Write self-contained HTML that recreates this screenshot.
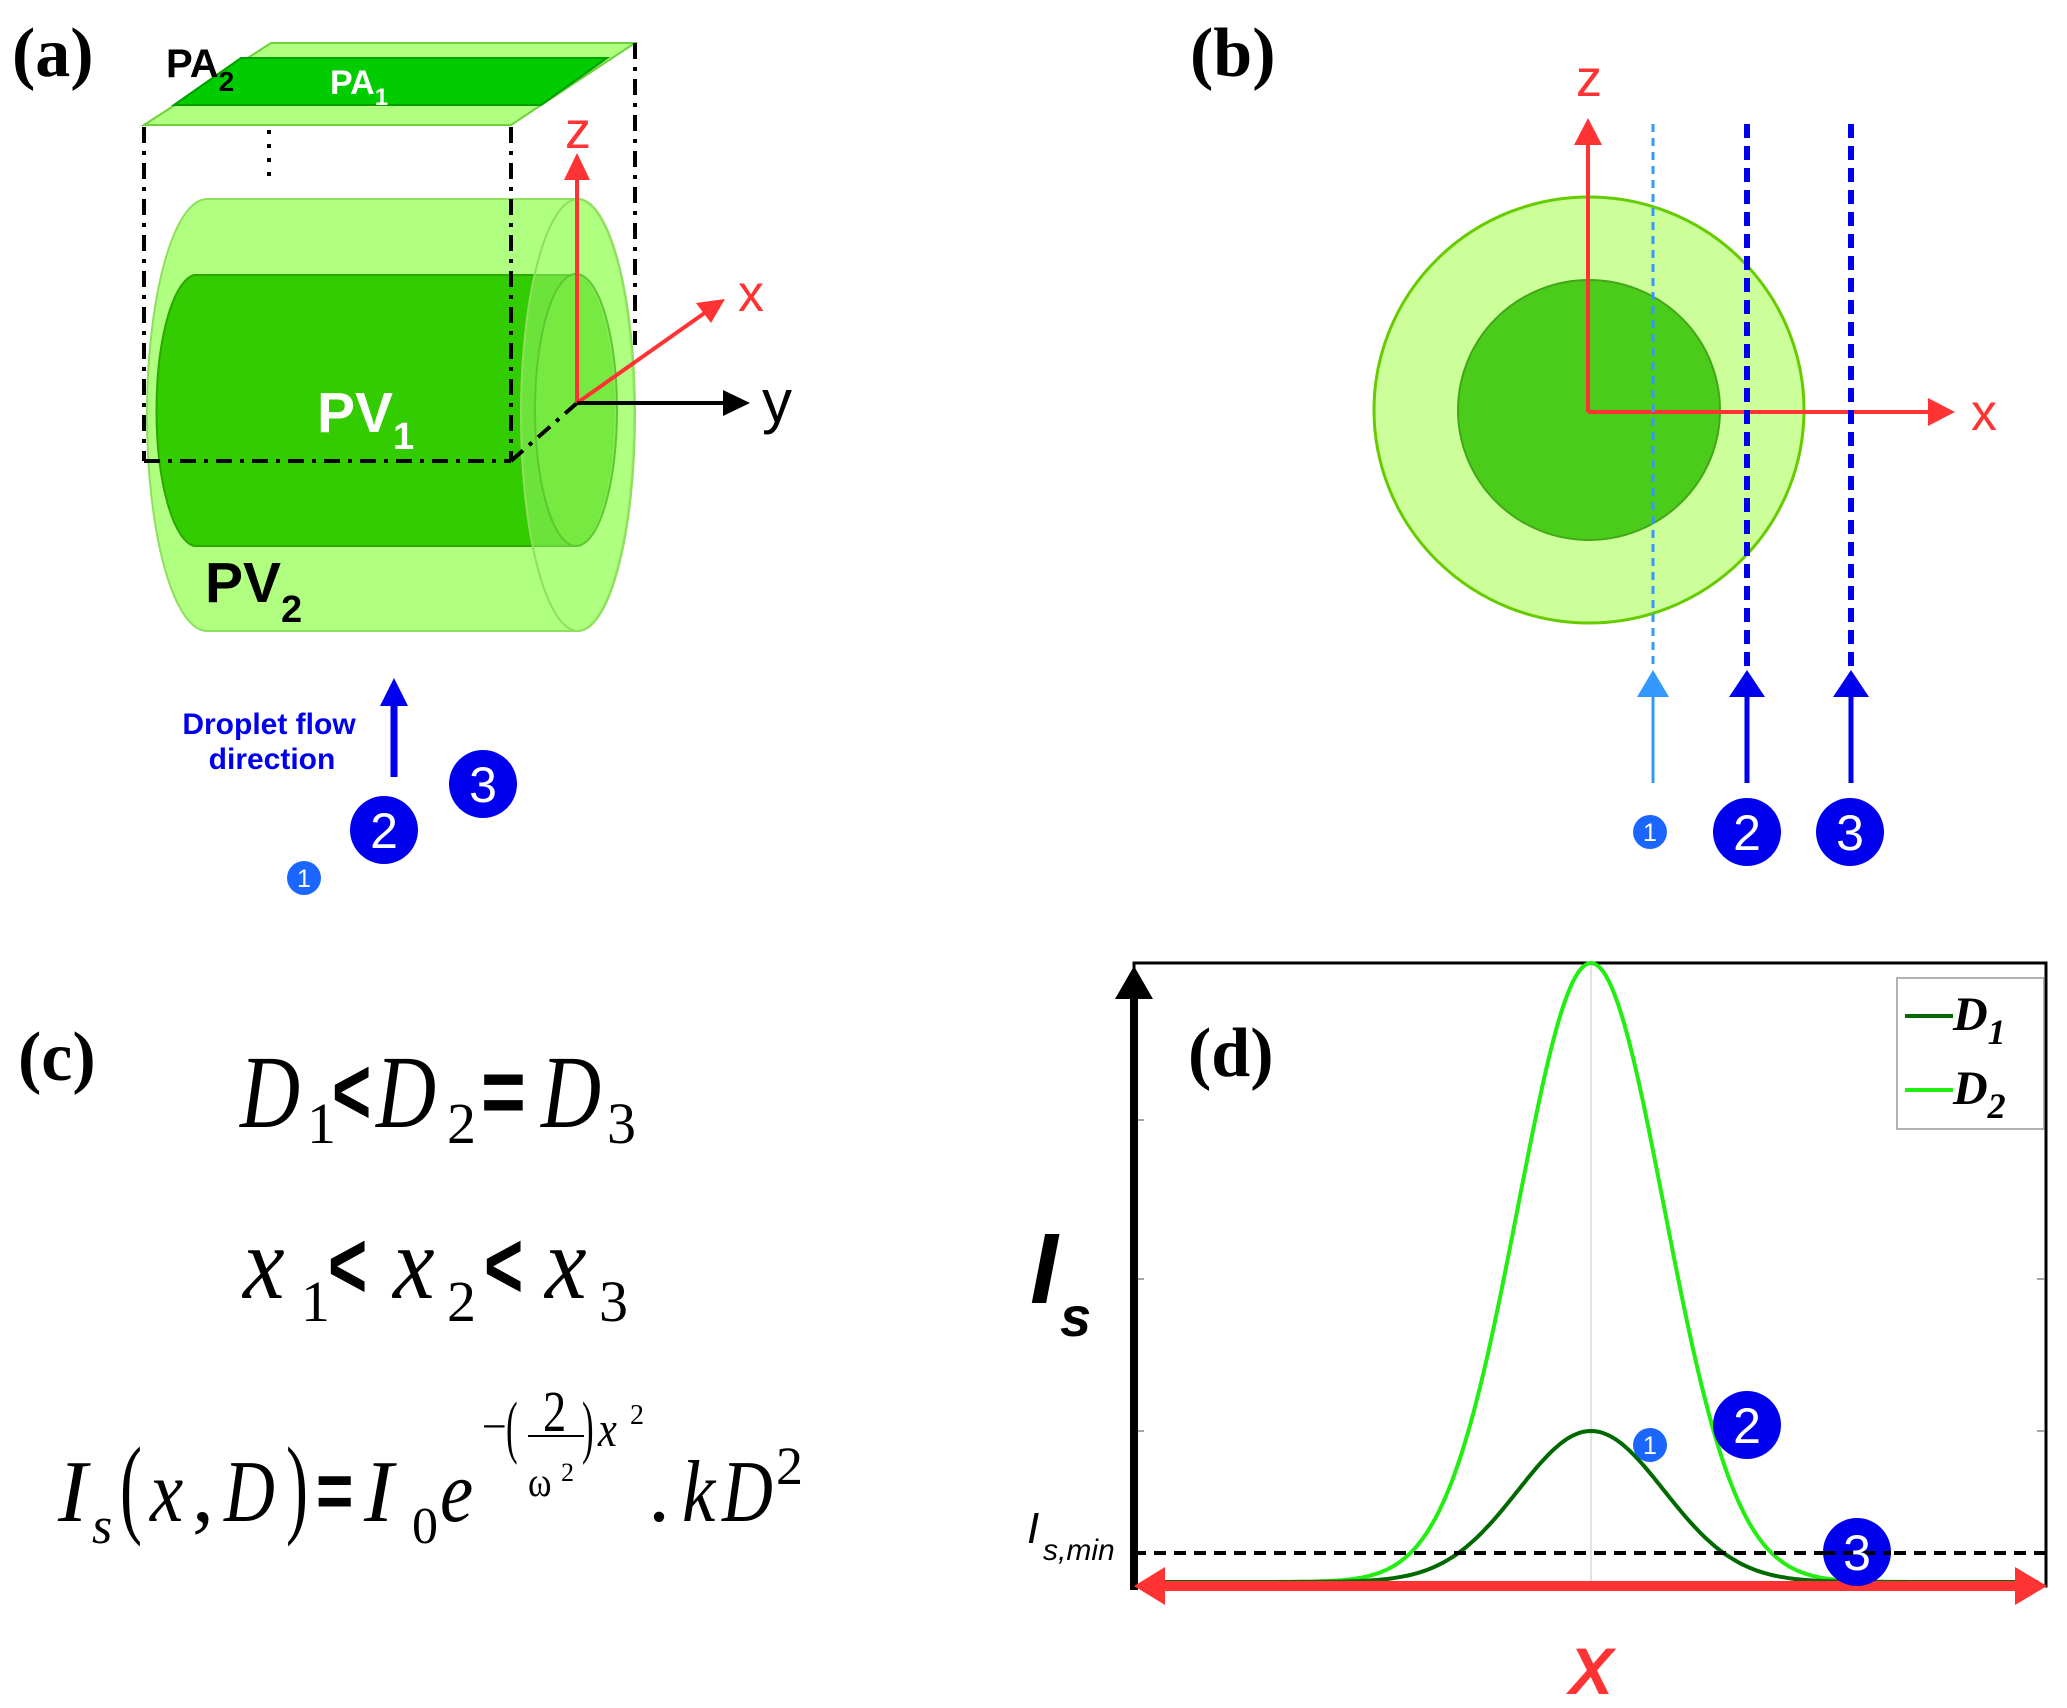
<!DOCTYPE html>
<html><head><meta charset="utf-8"><style>
html,body{margin:0;padding:0;background:#fff;}
svg{display:block;}
.lbl{font-family:"Liberation Serif",serif;font-weight:bold;font-size:70px;fill:#000;}
.sans{font-family:"Liberation Sans",sans-serif;}
.m{font-family:"Liberation Serif",serif;font-style:italic;}
.r{font-family:"Liberation Serif",serif;font-style:normal;}
</style></head><body>
<svg width="2067" height="1708" viewBox="0 0 2067 1708" xmlns="http://www.w3.org/2000/svg">

<!-- ===== Panel (a) ===== -->
<text class="lbl" x="12" y="76">(a)</text>
<g transform="translate(-6 0)">
<polygon points="150,125 277,43 641,43 517,125" fill="#b0ff80" stroke="#6cd23c" stroke-width="2"/>
<polygon points="180,105 247,58 613,58 547,105" fill="#00cc00" stroke="#00a000" stroke-width="2"/>
<text class="sans" x="172" y="77" font-size="40" font-weight="bold" fill="#000">PA<tspan font-size="28" dy="14">2</tspan></text>
<text class="sans" x="336" y="94" font-size="34" font-weight="bold" fill="#fff">PA<tspan font-size="24" dy="11">1</tspan></text>

<path d="M213,199 L583,199 A57,216 0 0 1 583,631 L213,631 A60,216 0 0 1 213,199 Z" fill="#b0ff80" stroke="#8ee05c" stroke-width="2"/>
<path d="M200,275 L582,275 A41,136 0 0 1 582,546 L200,546 A41,136 0 0 1 200,275 Z" fill="#33cc00" stroke="#2aaa00" stroke-width="2"/>
<ellipse cx="584" cy="415" rx="57" ry="216" fill="#b0ff80" fill-opacity="0.45" stroke="#8ee05c" stroke-width="2"/>
<ellipse cx="582" cy="410" rx="41" ry="136" fill="#7aeb45" fill-opacity="0.8" stroke="#5cc830" stroke-width="2"/>

<g stroke="#000" stroke-width="4" fill="none" stroke-dasharray="16 8 4 8">
<line x1="150" y1="127" x2="150" y2="461"/>
<line x1="517" y1="127" x2="517" y2="461"/>
<line x1="150" y1="461" x2="517" y2="461"/>
<line x1="641" y1="43" x2="641" y2="345"/>
<line x1="517" y1="461" x2="583" y2="403"/>
</g>
<line x1="275" y1="130" x2="275" y2="184" stroke="#000" stroke-width="4" stroke-dasharray="4 10"/>

<text class="sans" x="323" y="432" font-size="57" font-weight="bold" fill="#fff">PV<tspan font-size="38" dy="17">1</tspan></text>
<text class="sans" x="211" y="602" font-size="57" font-weight="bold" fill="#000">PV<tspan font-size="38" dy="20">2</tspan></text>

<line x1="583" y1="403" x2="583" y2="178" stroke="#ff3333" stroke-width="4"/>
<polygon points="583,153 570,180 596,180" fill="#ff3333"/>
<line x1="583" y1="403" x2="712" y2="312" stroke="#ff3333" stroke-width="4"/>
<polygon points="731,299 702,303 717,323" fill="#ff3333"/>
<line x1="583" y1="403" x2="732" y2="403" stroke="#000" stroke-width="4"/>
<polygon points="756,403 729,390 729,416" fill="#000"/>
<text class="sans" x="571" y="148" font-size="52" fill="#ff3333">z</text>
<text class="sans" x="744" y="311" font-size="52" fill="#ff3333">x</text>
<text class="sans" x="768" y="422" font-size="60" fill="#000">y</text>

<line x1="400" y1="777" x2="400" y2="700" stroke="#0000ee" stroke-width="7"/>
<polygon points="400,678 386,706 414,706" fill="#0000ee"/>
<text class="sans" x="275" y="734" font-size="30" font-weight="bold" fill="#0000ee" text-anchor="middle">Droplet flow</text>
<text class="sans" x="278" y="769" font-size="30" font-weight="bold" fill="#0000ee" text-anchor="middle">direction</text>
<circle cx="489" cy="784" r="34" fill="#0000ee"/>
<text class="sans" x="489" y="802" font-size="50" fill="#fff" text-anchor="middle">3</text>
<circle cx="390" cy="830" r="34" fill="#0000ee"/>
<text class="sans" x="390" y="848" font-size="50" fill="#fff" text-anchor="middle">2</text>
<circle cx="310" cy="878" r="17" fill="#1a66ff"/>
<text class="sans" x="310" y="887" font-size="25" fill="#fff" text-anchor="middle">1</text>
</g>

<!-- ===== Panel (b) ===== -->
<text class="lbl" x="1190" y="76">(b)</text>
<g transform="translate(-7 0)">
<ellipse cx="1596" cy="410" rx="215" ry="213" fill="#ccff99" stroke="#66cc00" stroke-width="3"/>
<ellipse cx="1596" cy="410" rx="131" ry="130" fill="#4ccc1a" stroke="#3fa818" stroke-width="2"/>
<line x1="1595" y1="412" x2="1595" y2="140" stroke="#ff3333" stroke-width="4"/>
<polygon points="1595,118 1581,145 1609,145" fill="#ff3333"/>
<line x1="1595" y1="412" x2="1938" y2="412" stroke="#ff3333" stroke-width="4"/>
<polygon points="1962,412 1935,398 1935,426" fill="#ff3333"/>
<text class="sans" x="1596" y="96" font-size="52" fill="#ff3333" text-anchor="middle">z</text>
<text class="sans" x="1991" y="430" font-size="52" fill="#ff3333" text-anchor="middle">x</text>
<line x1="1660" y1="124" x2="1660" y2="668" stroke="#3399ff" stroke-width="3" stroke-dasharray="8 6"/>
<line x1="1754" y1="124" x2="1754" y2="668" stroke="#0000ee" stroke-width="6" stroke-dasharray="14 8"/>
<line x1="1858" y1="124" x2="1858" y2="668" stroke="#0000ee" stroke-width="6" stroke-dasharray="14 8"/>
<line x1="1660" y1="695" x2="1660" y2="783" stroke="#3399ff" stroke-width="3"/>
<polygon points="1660,670 1644,697 1676,697" fill="#3399ff"/>
<line x1="1754" y1="695" x2="1754" y2="783" stroke="#0000ee" stroke-width="5"/>
<polygon points="1754,670 1736,697 1772,697" fill="#0000ee"/>
<line x1="1858" y1="695" x2="1858" y2="783" stroke="#0000ee" stroke-width="5"/>
<polygon points="1858,670 1840,697 1876,697" fill="#0000ee"/>
<circle cx="1657" cy="832" r="17" fill="#1a66ff"/>
<text class="sans" x="1657" y="841" font-size="25" fill="#fff" text-anchor="middle">1</text>
<circle cx="1754" cy="832" r="34" fill="#0000ee"/>
<text class="sans" x="1754" y="850" font-size="50" fill="#fff" text-anchor="middle">2</text>
<circle cx="1857" cy="832" r="34" fill="#0000ee"/>
<text class="sans" x="1857" y="850" font-size="50" fill="#fff" text-anchor="middle">3</text>
</g>

<!-- ===== Panel (c) ===== -->
<text class="lbl" x="18" y="1080">(c)</text>
<g fill="#000">
<text class="m" font-size="104" transform="translate(240 1127) scale(0.8 1)">D</text>
<text class="r" font-size="58" x="307" y="1143">1</text>
<text class="sans" font-size="96" font-weight="bold" transform="translate(332 1124) scale(0.7 1)">&lt;</text>
<text class="m" font-size="104" transform="translate(376 1127) scale(0.8 1)">D</text>
<text class="r" font-size="58" x="447" y="1143">2</text>
<text class="sans" font-size="96" font-weight="bold" transform="translate(481 1124) scale(0.8 1)">=</text>
<text class="m" font-size="104" transform="translate(541 1127) scale(0.8 1)">D</text>
<text class="r" font-size="58" x="607" y="1143">3</text>

<text class="m" font-size="104" transform="translate(243 1298) scale(0.9 1)">x</text>
<text class="r" font-size="58" x="301" y="1321">1</text>
<text class="sans" font-size="96" font-weight="bold" transform="translate(328 1298) scale(0.7 1)">&lt;</text>
<text class="m" font-size="104" transform="translate(393 1298) scale(0.9 1)">x</text>
<text class="r" font-size="58" x="447" y="1321">2</text>
<text class="sans" font-size="96" font-weight="bold" transform="translate(484 1298) scale(0.7 1)">&lt;</text>
<text class="m" font-size="104" transform="translate(545 1298) scale(0.9 1)">x</text>
<text class="r" font-size="58" x="599" y="1321">3</text>

<text class="m" font-size="88" x="58" y="1521">I</text>
<text class="m" font-size="52" x="92" y="1543">s</text>
<text class="r" font-size="110" transform="translate(120 1523) scale(0.6 1)">(</text>
<text class="m" font-size="88" transform="translate(150 1521) scale(0.85 1)">x</text>
<text class="r" font-size="88" x="192" y="1521">,</text>
<text class="m" font-size="88" transform="translate(224 1521) scale(0.8 1)">D</text>
<text class="r" font-size="110" transform="translate(286 1523) scale(0.6 1)">)</text>
<text class="sans" font-size="80" font-weight="bold" transform="translate(316 1518) scale(0.8 1)">=</text>
<text class="m" font-size="88" x="364" y="1521">I</text>
<text class="r" font-size="52" x="412" y="1543">0</text>
<text class="m" font-size="88" transform="translate(440 1521) scale(0.85 1)">e</text>
<text class="r" font-size="44" x="482" y="1441">−</text>
<text class="r" font-size="70" transform="translate(506 1450) scale(0.5 1)">(</text>
<text class="r" font-size="58" transform="translate(543 1431) scale(0.8 1)">2</text>
<line x1="528" y1="1436" x2="584" y2="1436" stroke="#000" stroke-width="2"/>
<text class="r" font-size="42" transform="translate(528 1496) scale(0.85 1)">ω</text>
<text class="r" font-size="26" x="561" y="1481">2</text>
<text class="r" font-size="70" transform="translate(582 1450) scale(0.5 1)">)</text>
<text class="m" font-size="50" transform="translate(598 1446) scale(0.85 1)">x</text>
<text class="r" font-size="28" x="630" y="1424">2</text>
<text class="r" font-size="88" x="648" y="1521">.</text>
<text class="m" font-size="88" transform="translate(682 1521) scale(0.85 1)">k</text>
<text class="m" font-size="88" transform="translate(722 1521) scale(0.8 1)">D</text>
<text class="r" font-size="54" x="776" y="1484">2</text>
</g>

<!-- ===== Panel (d) ===== -->
<rect x="1134" y="963" width="912" height="623" fill="none" stroke="#000" stroke-width="3"/>
<line x1="1591" y1="963" x2="1591" y2="1586" stroke="#d8d8d8" stroke-width="1.5"/>
<g stroke="#888" stroke-width="1.5">
<line x1="1138" y1="1120" x2="1144" y2="1120"/><line x1="1138" y1="1279" x2="1144" y2="1279"/><line x1="1138" y1="1431" x2="1144" y2="1431"/>
<line x1="2037" y1="1120" x2="2044" y2="1120"/><line x1="2037" y1="1279" x2="2044" y2="1279"/><line x1="2037" y1="1431" x2="2044" y2="1431"/>
</g>
<path id="g2" fill="none" stroke="#22ee11" stroke-width="4"/>
<path id="g1" fill="none" stroke="#006a00" stroke-width="4"/>
<line x1="1134" y1="1553" x2="2046" y2="1553" stroke="#000" stroke-width="4" stroke-dasharray="12 8"/>
<line x1="1134" y1="1590" x2="1134" y2="995" stroke="#000" stroke-width="8"/>
<polygon points="1134,966 1115,999 1153,999" fill="#000"/>
<line x1="1160" y1="1586" x2="2020" y2="1586" stroke="#ff3333" stroke-width="10"/>
<polygon points="1134,1586 1165,1567 1165,1605" fill="#ff3333"/>
<polygon points="2047,1586 2015,1567 2015,1605" fill="#ff3333"/>

<text class="lbl" x="1188" y="1076">(d)</text>
<rect x="1897" y="978" width="147" height="151" fill="#fff" stroke="#999" stroke-width="1.5"/>
<line x1="1905" y1="1016" x2="1953" y2="1016" stroke="#006a00" stroke-width="4"/>
<line x1="1905" y1="1090" x2="1953" y2="1090" stroke="#22ee11" stroke-width="4"/>
<text class="m" x="1953" y="1030" font-size="48" font-weight="bold">D<tspan font-size="36" dy="14">1</tspan></text>
<text class="m" x="1953" y="1104" font-size="48" font-weight="bold">D<tspan font-size="36" dy="14">2</tspan></text>

<text class="sans" x="1030" y="1303" font-size="100" font-weight="bold" font-style="italic">I</text>
<text class="sans" x="1060" y="1336" font-size="56" font-weight="bold" font-style="italic">s</text>
<text class="sans" x="1027" y="1543" font-size="44" font-style="italic">I</text>
<text class="sans" x="1043" y="1560" font-size="30" font-style="italic">s,min</text>
<text class="sans" x="1591" y="1694" font-size="66" font-weight="bold" font-style="italic" fill="#ff3333" text-anchor="middle">X</text>

<circle cx="1747" cy="1425" r="34" fill="#0000ee"/>
<text class="sans" x="1747" y="1443" font-size="50" fill="#fff" text-anchor="middle">2</text>
<circle cx="1650" cy="1445" r="17" fill="#1a66ff"/>
<text class="sans" x="1650" y="1454" font-size="25" fill="#fff" text-anchor="middle">1</text>
<circle cx="1857" cy="1552" r="34" fill="#0000ee"/>
<line x1="1823" y1="1553" x2="1891" y2="1553" stroke="#000" stroke-width="4" stroke-dasharray="12 8"/>
<text class="sans" x="1857" y="1570" font-size="50" fill="#fff" text-anchor="middle">3</text>
</svg>
<script>
function g(a,s){var d="";for(var x=1150;x<=2040;x+=3){var y=1582-a*Math.exp(-Math.pow(x-1591,2)/(2*s*s));d+=(d?"L":"M")+x+","+y.toFixed(1);}return d;}
document.getElementById("g2").setAttribute("d",g(619,73));
document.getElementById("g1").setAttribute("d",g(151,73));
</script>
</body></html>
